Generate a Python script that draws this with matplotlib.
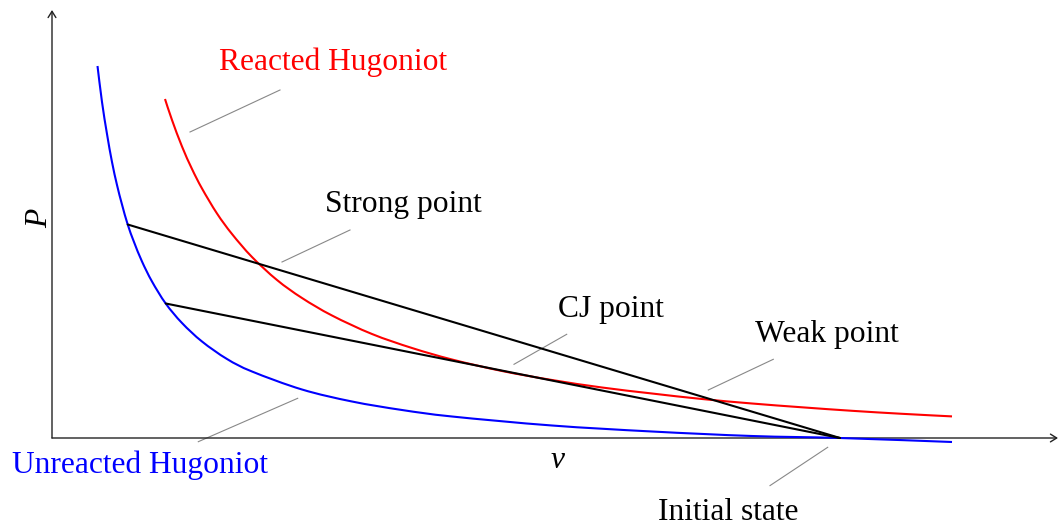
import matplotlib
matplotlib.use("Agg")
import matplotlib.pyplot as plt
from matplotlib.path import Path
from matplotlib.patches import PathPatch

plt.rcParams['font.family'] = ['Liberation Serif', 'DejaVu Serif']

# Unreacted Hugoniot (v, P)
unreacted_v = [0.455, 0.50, 0.55, 0.60, 0.65, 0.70, 0.757, 0.82, 0.90, 1.00, 1.137,
               1.30, 1.50, 1.75, 2.00, 2.50, 3.00, 3.50, 4.00, 5.00, 6.00, 7.00,
               7.88, 9.00]
unreacted_P = [3.72, 3.36, 3.04, 2.76, 2.53, 2.335, 2.135, 1.96, 1.765, 1.565, 1.345,
               1.15, 0.965, 0.79, 0.665, 0.485, 0.365, 0.28, 0.215, 0.125, 0.065, 0.02,
               0.0, -0.04]

# Reacted Hugoniot (v, P)
reacted_v = [1.13, 1.20, 1.30, 1.40, 1.50, 1.65, 1.80, 2.00, 2.25, 2.50, 2.80, 3.20,
             3.60, 4.00, 4.50, 5.00, 5.50, 6.00, 6.50, 7.00, 7.50, 8.00, 8.50, 9.00]
reacted_P = [3.39, 3.18, 2.915, 2.69, 2.495, 2.245, 2.04, 1.81, 1.58, 1.40, 1.225, 1.04,
             0.90, 0.785, 0.67, 0.58, 0.505, 0.445, 0.39, 0.345, 0.307, 0.272, 0.242, 0.216]

# Rayleigh lines: initial state to points on unreacted Hugoniot
initial_state = (7.88, 0.0)
strong_line_end = (0.757, 2.135)
cj_line_end = (1.137, 1.345)

# Labels: text, text position (v, P baseline), leader start, leader end, colour
labels = ["Reacted Hugoniot", "Strong point", "CJ point", "Weak point",
          "Unreacted Hugoniot", "Initial state"]
label_pos = [(2.813, 3.68), (3.515, 2.263), (5.585, 1.213), (7.75, 0.963),
             (0.88, -0.353), (6.76, -0.82)]
leader_from = [(1.38, 3.06), (2.30, 1.76), (4.62, 0.737), (6.563, 0.48),
               (1.463, -0.037), (7.757, -0.093)]
leader_to = [(2.28, 3.48), (2.98, 2.08), (5.147, 1.037), (7.213, 0.787),
             (2.457, 0.397), (7.18, -0.476)]
label_colors = ["#ff0000", "black", "black", "black", "#0000ff", "black"]


def smooth_path(xs, ys):
    """Catmull-Rom style Bezier path through the given points."""
    pts = list(zip(xs, ys))
    n = len(pts)
    verts = [pts[0]]
    codes = [Path.MOVETO]
    for i in range(n - 1):
        p0 = pts[i - 1] if i > 0 else pts[i]
        p1 = pts[i]
        p2 = pts[i + 1]
        p3 = pts[i + 2] if i + 2 < n else pts[i + 1]
        c1 = (p1[0] + (p2[0] - p0[0]) / 6.0, p1[1] + (p2[1] - p0[1]) / 6.0)
        c2 = (p2[0] - (p3[0] - p1[0]) / 6.0, p2[1] - (p3[1] - p1[1]) / 6.0)
        verts += [c1, c2, p2]
        codes += [Path.CURVE4] * 3
    return Path(verts, codes)


fig = plt.figure(figsize=(10.59, 5.27), dpi=100)
ax = fig.add_axes([0, 0, 1, 1])
ax.set_xlim(-0.52, 10.07)
ax.set_ylim(-0.89, 4.38)
ax.axis('off')

# axes with arrows
arrow = dict(arrowstyle='->,head_length=0.45,head_width=0.28', lw=1.0, color='#222222',
             shrinkA=0, shrinkB=0)
ax.annotate('', xy=(10.06, 0), xytext=(0, 0), arrowprops=arrow)
ax.annotate('', xy=(0, 4.28), xytext=(0, 0), arrowprops=arrow)

# leaders
for a, b in zip(leader_from, leader_to):
    ax.plot([a[0], b[0]], [a[1], b[1]], color='#888888', lw=0.8, zorder=1)

ax.add_patch(PathPatch(smooth_path(unreacted_v, unreacted_P), facecolor='none',
                       edgecolor='#0000ff', lw=1.5, zorder=3))
ax.add_patch(PathPatch(smooth_path(reacted_v, reacted_P), facecolor='none',
                       edgecolor='#ff0000', lw=1.5, zorder=3))
for end in (strong_line_end, cj_line_end):
    ax.plot([end[0], initial_state[0]], [end[1], initial_state[1]], color='black',
            lw=1.5, zorder=4, solid_capstyle='round')

for t, p, c in zip(labels, label_pos, label_colors):
    ax.text(p[0], p[1], t, color=c, fontsize=22.7, ha='center', va='baseline')

ax.text(5.06, -0.30, 'v', fontsize=22.7, style='italic', ha='center', va='baseline')
ax.text(-0.12, 2.2, 'P', fontsize=22.7, style='italic', ha='center', va='center',
        rotation=90)

fig.savefig('out.png', dpi=100)
